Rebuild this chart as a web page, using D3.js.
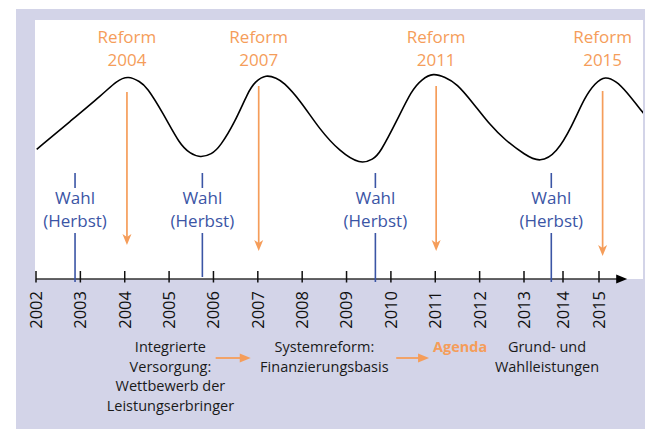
<!DOCTYPE html>
<html><head><meta charset="utf-8">
<script src="https://cdn.jsdelivr.net/npm/d3@7"></script>
<style>
html,body{margin:0;padding:0;background:#fff;}
svg{display:block;}
text{font-family:"Open Sans","Noto Sans",sans-serif;}
</style></head>
<body>
<script>
// ---- data ----
const years = [2002,2003,2004,2005,2006,2007,2008,2009,2010,2011,2012,2013,2014,2015];
const yearLabels = ["2002","2003","2004","2005","2006","2007","2008","2009","2010","2011","2012","2013","2014","2015"];
// Curve (arbitrary intensity 0-100)
const curveYears  = [2002.016,2002.766,2003.510,2003.819,2004.081,2004.344,2004.495,2004.863,2005.246,2005.471,2005.697,2005.961,2006.148,2006.486,2006.779,2006.937,2007.185,2007.426,2007.568,2007.951,2008.402,2008.853,2009.304,2009.604,2009.754,2010.131,2010.469,2010.694,2010.956,2011.219,2011.483,2011.851,2012.234,2012.572,2013.026,2013.410,2013.838,2014.242,2014.611,2014.889,2015.167,2015.491,2015.722,2016.231];
const curveValues = [50.08,60.81,71.43,76.56,78.5,76.18,74.25,64.09,51.74,48.53,46.8,48.15,51.08,60.62,72.20,76.18,79.0,77.49,76.18,69.11,57.53,49.15,44.2,46.22,48.65,61.00,72.97,77.10,79.6,77.88,75.56,67.95,59.46,53.67,47.88,44.9,48.65,58.80,70.39,75.56,78.5,76.18,72.97,63.98];
const reformLabels = ["2004","2007","2011","2015"];
const reformYears  = [2004.05,2007.02,2011.02,2015.1];
const wahlYears    = [2002.88,2005.75,2009.65,2013.7];
const phaseLabels  = [["Integrierte","Versorgung:","Wettbewerb der","Leistungserbringer"],["Systemreform:","Finanzierungsbasis"],["Agenda"],["Grund- und","Wahlleistungen"]];
const phaseYears   = [2005.03,2008.5,2011.56,2013.59];

// ---- layout / style ----
const W=645,H=429;
const orange="#f59d5a", blue="#3b55a5", lav="#d3d4e8";
const svg=d3.select("body").append("svg").attr("width",W).attr("height",H);

// polylinear time scale (the original axis compresses the last years)
const x=d3.scaleLinear().domain([2002,2013,2014,2015,2016.3]).range([36,524,563,599,646]);
const y=d3.scaleLinear().domain([0,100]).range([279,20]);

svg.append("rect").attr("x",16).attr("y",9).attr("width",629).attr("height",420).attr("fill",lav);
svg.append("rect").attr("x",35).attr("y",20).attr("width",608).attr("height",259).attr("fill","#fff");

const defs=svg.append("defs");
defs.append("clipPath").attr("id","clip").append("rect").attr("x",35).attr("y",20).attr("width",608).attr("height",259);

// curve
const line=d3.line().x((d,i)=>x(curveYears[i])).y(d=>y(d)).curve(d3.curveBasis);
svg.append("path").attr("d",line(curveValues)).attr("fill","none").attr("stroke","#000").attr("stroke-width",1.6).attr("clip-path","url(#clip)");

// axis
const axY=y(0);
svg.append("line").attr("x1",x(2002)).attr("x2",x(2015.6)).attr("y1",axY).attr("y2",axY).attr("stroke","#333").attr("stroke-width",1.4);
const ax=x(2015.78);
svg.append("path").attr("d",`M${ax},${axY} L${ax-11},${axY-4.5} L${ax-11},${axY+4.5} Z`).attr("fill","#000");
svg.selectAll(".tick").data(years).join("line")
  .attr("x1",d=>x(d)).attr("x2",d=>x(d)).attr("y1",axY-8).attr("y2",axY+3.5)
  .attr("stroke","#111").attr("stroke-width",1.5);
svg.selectAll(".ylab").data(years).join("text")
  .attr("transform",d=>`translate(${x(d)},${axY+12}) rotate(-90)`)
  .attr("text-anchor","end").attr("dy","0.36em")
  .attr("font-size",16.5).attr("fill","#111")
  .text((d,i)=>yearLabels[i]);

// reform arrows + labels
const arrowTop=[92,86,86,91], arrowTip=[245,251,251,256];
reformYears.forEach((yr,i)=>{
  const cx=x(yr);
  svg.append("line").attr("x1",cx).attr("x2",cx).attr("y1",arrowTop[i]).attr("y2",arrowTip[i]-8)
    .attr("stroke",orange).attr("stroke-width",1.7);
  svg.append("path").attr("d",`M${cx},${arrowTip[i]} L${cx-4.5},${arrowTip[i]-11} L${cx},${arrowTip[i]-8} L${cx+4.5},${arrowTip[i]-11} Z`).attr("fill",orange);
  const t=svg.append("text").attr("x",cx).attr("text-anchor","middle").attr("fill",orange).attr("font-size",17);
  t.append("tspan").attr("x",cx).attr("y",43).text("Reform");
  t.append("tspan").attr("x",cx).attr("y",66).text(reformLabels[i]);
});

// elections
wahlYears.forEach((yr,i)=>{
  const cx=x(yr);
  svg.append("line").attr("x1",cx).attr("x2",cx).attr("y1",173).attr("y2",188).attr("stroke",blue).attr("stroke-width",1.6);
  svg.append("line").attr("x1",cx).attr("x2",cx).attr("y1",233).attr("y2",i===1?277:282).attr("stroke",blue).attr("stroke-width",1.6);
  const t=svg.append("text").attr("text-anchor","middle").attr("fill",blue).attr("font-size",17);
  t.append("tspan").attr("x",cx).attr("y",204).text("Wahl");
  t.append("tspan").attr("x",cx).attr("y",227).text("(Herbst)");
});

// phases
phaseLabels.forEach((lines,i)=>{
  const cx=x(phaseYears[i]);
  const t=svg.append("text").attr("text-anchor","middle").attr("font-size",14.5)
    .attr("fill",i===2?orange:"#1a1a1a").attr("font-weight",i===2?"bold":"normal");
  lines.forEach((s,j)=>t.append("tspan").attr("x",cx).attr("y",352+j*19.5).text(s));
});
// phase arrows
[[2006.05,2006.84],[2010.12,2010.86]].forEach(([a,b])=>{
  const x1=x(a),x2=x(b),yy=358;
  svg.append("line").attr("x1",x1).attr("x2",x2-8).attr("y1",yy).attr("y2",yy).attr("stroke",orange).attr("stroke-width",1.8);
  svg.append("path").attr("d",`M${x2},${yy} L${x2-11},${yy-4.5} L${x2-11},${yy+4.5} Z`).attr("fill",orange);
});
</script>
</body></html>
